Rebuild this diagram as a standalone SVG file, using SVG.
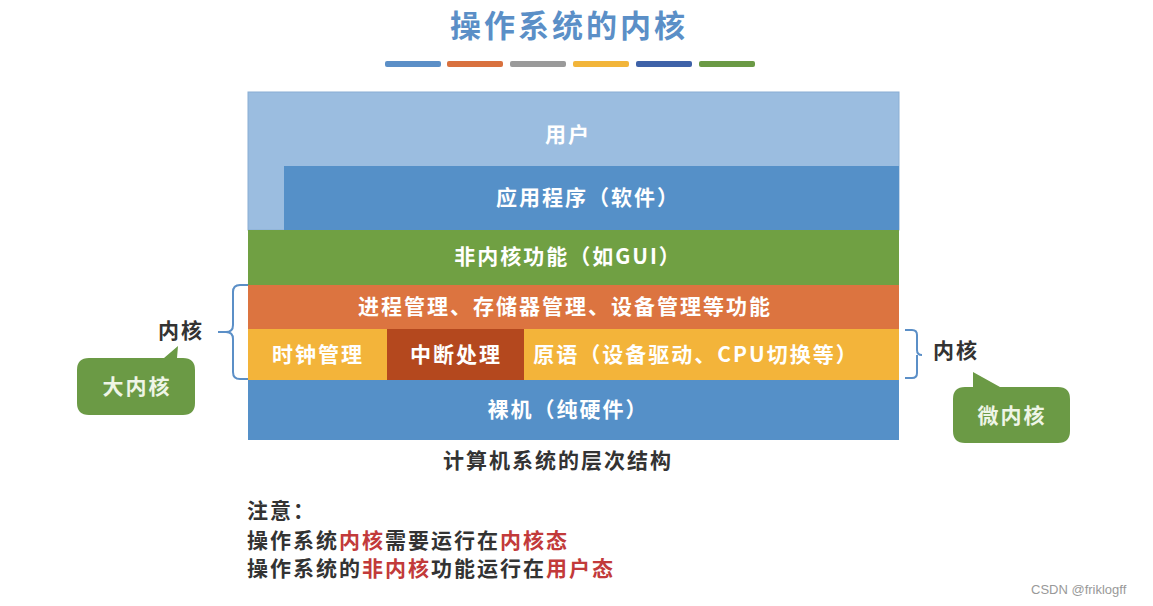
<svg xmlns="http://www.w3.org/2000/svg" width="1153" height="606" viewBox="0 0 1153 606">
<style>
.cjk{font-family:"Noto Sans CJK SC","Liberation Sans",sans-serif;}
.lbl{font-size:21px;letter-spacing:2px;fill:#fff;font-weight:bold;text-anchor:middle;}
.dark{font-size:21px;letter-spacing:2px;fill:#333;font-weight:bold;}
.red{fill:#c23a3a;}
.brace{fill:none;stroke:#5b8fc7;stroke-width:2;}
</style>
<rect width="1153" height="606" fill="#fff"/>
<g id="title">
<text class="cjk" x="569" y="37" font-size="31" letter-spacing="3" font-weight="bold" fill="#5b8fc7" text-anchor="middle">操作系统的内核</text>
<rect x="385" y="61" width="56" height="6" rx="2" fill="#5b8fc7"/>
<rect x="447" y="61" width="56" height="6" rx="2" fill="#d9713e"/>
<rect x="510" y="61" width="56" height="6" rx="2" fill="#9a9a9a"/>
<rect x="573" y="61" width="56" height="6" rx="2" fill="#f2b53a"/>
<rect x="636" y="61" width="56" height="6" rx="2" fill="#3e62a8"/>
<rect x="699" y="61" width="56" height="6" rx="2" fill="#6b9a45"/>
</g>
<g id="user"><rect x="248" y="92" width="651" height="138" fill="#9bbde0" stroke="#8aaed4" stroke-width="1"/><text class="cjk lbl" x="568" y="142">用户</text></g>
<g id="app"><rect x="284" y="166" width="615" height="64" fill="#5590c8"/><text class="cjk lbl" x="588" y="205">应用程序（软件）</text></g>
<g id="nonkernel"><rect x="248" y="230" width="651" height="55" fill="#70a043"/><text class="cjk lbl" x="568" y="264">非内核功能（如GUI）</text></g>
<g id="mgmt"><rect x="248" y="285" width="651" height="44" fill="#dc7440"/><text class="cjk lbl" x="565" y="314">进程管理、存储器管理、设备管理等功能</text></g>
<g id="clock"><rect x="248" y="329" width="139" height="51" fill="#f3b43a"/><text class="cjk lbl" x="318" y="362">时钟管理</text></g>
<g id="interrupt"><rect x="387" y="329" width="137" height="51" fill="#b4481e"/><text class="cjk lbl" x="456" y="362">中断处理</text></g>
<g id="primitive"><rect x="524" y="329" width="375" height="51" fill="#f3b43a"/><text class="cjk lbl" x="696" y="362">原语（设备驱动、CPU切换等）</text></g>
<g id="hardware"><rect x="248" y="380" width="651" height="60" fill="#5590c8"/><text class="cjk lbl" x="568" y="417">裸机（纯硬件）</text></g>
<g id="caption"><text class="cjk dark" x="558" y="468" text-anchor="middle">计算机系统的层次结构</text></g>
<g id="connectors">
<path class="brace" d="M248,285 H240 Q233,285 233,292 V325 Q233,332 226,332 H218 M226,332 Q233,332 233,339 V372 Q233,379 240,379 H248"/>
<path class="brace" d="M905,330 H912 Q917,330 917,335 V350 Q917,355 922,355 M917,355 Q917,360 917,360 V373 Q917,378 912,378 H905"/>
</g>
<g id="bigkernel-label"><text class="cjk dark" x="158" y="338">内核</text></g>
<g id="bigkernel">
<path d="M89,358 H164 L178,346 L177,358 H183 Q195,358 195,370 V403 Q195,415 183,415 H89 Q77,415 77,403 V370 Q77,358 89,358 Z" fill="#6b9a45"/>
<text class="cjk" x="137" y="394" font-size="21" letter-spacing="2" font-weight="bold" fill="#eef5e6" text-anchor="middle">大内核</text>
</g>
<g id="microkernel-label"><text class="cjk dark" x="933" y="358">内核</text></g>
<g id="microkernel">
<path d="M965,387 H973 L973,372 L1000,387 H1058 Q1070,387 1070,399 V431 Q1070,443 1058,443 H965 Q953,443 953,431 V399 Q953,387 965,387 Z" fill="#6b9a45"/>
<text class="cjk" x="1012" y="423" font-size="21" letter-spacing="2" font-weight="bold" fill="#eef5e6" text-anchor="middle">微内核</text>
</g>
<g id="notes">
<text class="cjk dark" x="247" y="518">注意：</text>
<text class="cjk dark" x="247" y="548">操作系统<tspan class="red">内核</tspan>需要运行在<tspan class="red">内核态</tspan></text>
<text class="cjk dark" x="247" y="576">操作系统的<tspan class="red">非内核</tspan>功能运行在<tspan class="red">用户态</tspan></text>
</g>
<text x="1031" y="594" font-family="Liberation Sans,sans-serif" font-size="13" fill="#999">CSDN @friklogff</text>
</svg>
